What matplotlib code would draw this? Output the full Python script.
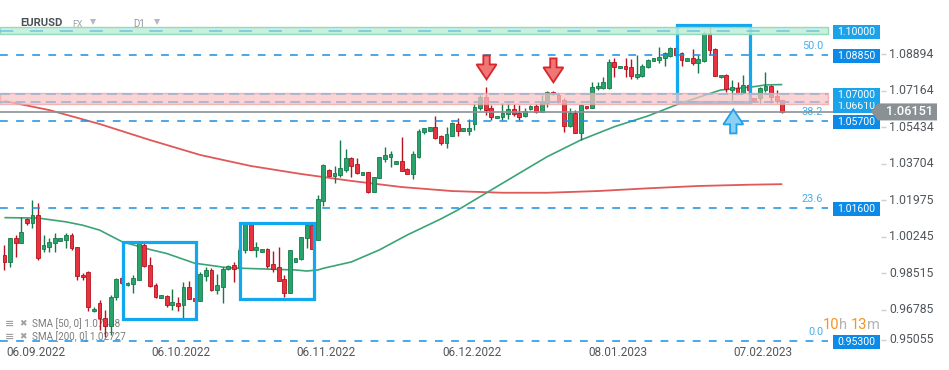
import matplotlib
matplotlib.use("Agg")
import matplotlib.pyplot as plt
from matplotlib.patches import Rectangle, Polygon
import numpy as np

plt.rcParams['font.family'] = ['Roboto', 'DejaVu Sans']
plt.rcParams['lines.scale_dashes'] = False

# ---------------- data ----------------
bar_index = list(range(-6, 134))   # 0 = 06.09.2022 (daily bars)
opens = [0.9937, 0.9905, 1.0016, 0.9995, 1.0106, 1.0087, 1.0127, 0.9964, 0.9973, 0.9995,
         1.0005, 1.0008, 1.0032, 0.9973, 0.9842, 0.9858, 0.9671, 0.9709, 0.9638, 0.9600,
         0.9737, 0.9826, 0.9795, 0.9798, 0.9818, 0.9984, 0.9889, 0.9795, 0.9737, 0.9743,
         0.9700, 0.9711, 0.9700, 0.9784, 0.9727, 0.9720, 0.9838, 0.9866, 0.9771, 0.9787,
         0.9870, 0.9889, 0.9875, 0.9961, 1.0087, 0.9961, 0.9953, 0.9964, 0.9894, 0.9879,
         0.9822, 0.9755, 0.9905, 0.9917, 1.0016, 1.0079, 1.0008, 1.0194, 1.0340, 1.0313,
         1.0316, 1.0340, 1.0395, 1.0368, 1.0318, 1.0329, 1.0237, 1.0303, 1.0392, 1.0403,
         1.0368, 1.0382, 1.0345, 1.0321, 1.0403, 1.0518, 1.0526, 1.0542, 1.0501, 1.0466,
         1.0501, 1.0558, 1.0526, 1.0526, 1.0558, 1.0632, 1.0687, 1.0632, 1.0585, 1.0590,
         1.0605, 1.0629, 1.0612, 1.0596, 1.0629, 1.0645, 1.0613, 1.0656, 1.0710, 1.0695,
         1.0672, 1.0548, 1.0612, 1.0514, 1.0643, 1.0635, 1.0727, 1.0730, 1.0727, 1.0852,
         1.0822, 1.0834, 1.0827, 1.0782, 1.0785, 1.0827, 1.0858, 1.0861, 1.0869, 1.0882,
         1.0917, 1.0893, 1.0858, 1.0869, 1.0846, 1.0858, 1.0988, 1.0912, 1.0779, 1.0790,
         1.0719, 1.0730, 1.0706, 1.0743, 1.0680, 1.0681, 1.0719, 1.0738, 1.0690, 1.0672]
highs = [0.9984, 1.0017, 1.0032, 1.0118, 1.0112, 1.0198, 1.0182, 1.0032, 1.0016, 1.0040,
         1.0016, 1.0040, 1.0040, 0.9976, 0.9850, 0.9860, 0.9692, 0.9724, 0.9676, 0.9747,
         0.9828, 0.9837, 0.9809, 0.9842, 1.0000, 0.9994, 0.9929, 0.9804, 0.9747, 0.9747,
         0.9776, 0.9739, 0.9810, 0.9815, 0.9731, 0.9858, 0.9878, 0.9874, 0.9847, 0.9881,
         0.9889, 0.9905, 0.9976, 1.0095, 1.0092, 1.0000, 0.9965, 0.9969, 0.9956, 0.9976,
         0.9842, 0.9961, 0.9921, 1.0021, 1.0092, 1.0089, 1.0221, 1.0368, 1.0345, 1.0359,
         1.0482, 1.0439, 1.0400, 1.0395, 1.0330, 1.0332, 1.0308, 1.0400, 1.0450, 1.0431,
         1.0382, 1.0498, 1.0349, 1.0431, 1.0534, 1.0539, 1.0542, 1.0596, 1.0506, 1.0545,
         1.0567, 1.0585, 1.0539, 1.0580, 1.0653, 1.0695, 1.0735, 1.0648, 1.0596, 1.0656,
         1.0656, 1.0653, 1.0648, 1.0632, 1.0648, 1.0653, 1.0695, 1.0716, 1.0714, 1.0706,
         1.0680, 1.0632, 1.0624, 1.0648, 1.0645, 1.0758, 1.0758, 1.0779, 1.0865, 1.0869,
         1.0833, 1.0869, 1.0865, 1.0885, 1.0842, 1.0866, 1.0871, 1.0924, 1.0901, 1.0924,
         1.0924, 1.0898, 1.0871, 1.0912, 1.0885, 1.0999, 1.1016, 1.0917, 1.0789, 1.0793,
         1.0766, 1.0758, 1.0790, 1.0747, 1.0681, 1.0735, 1.0806, 1.0743, 1.0719, 1.0672]
lows = [0.9866, 0.9882, 0.9929, 0.9994, 1.0079, 1.0063, 0.9913, 0.9953, 0.9953, 0.9953,
        1.0003, 0.9969, 0.9961, 0.9818, 0.9818, 0.9673, 0.9669, 0.9581, 0.9548, 0.9558,
        0.9724, 0.9795, 0.9790, 0.9755, 0.9818, 0.9881, 0.9787, 0.9733, 0.9735, 0.9692,
        0.9676, 0.9673, 0.9637, 0.9728, 0.9722, 0.9720, 0.9815, 0.9768, 0.9752, 0.9711,
        0.9866, 0.9810, 0.9866, 0.9945, 0.9961, 0.9929, 0.9952, 0.9874, 0.9858, 0.9815,
        0.9737, 0.9755, 0.9904, 0.9913, 0.9969, 0.9964, 1.0008, 1.0169, 1.0311, 1.0277,
        1.0308, 1.0332, 1.0308, 1.0321, 1.0316, 1.0229, 1.0237, 1.0303, 1.0379, 1.0356,
        1.0366, 1.0336, 1.0321, 1.0296, 1.0395, 1.0510, 1.0525, 1.0485, 1.0458, 1.0446,
        1.0501, 1.0501, 1.0525, 1.0506, 1.0529, 1.0624, 1.0601, 1.0577, 1.0584, 1.0577,
        1.0580, 1.0596, 1.0577, 1.0590, 1.0624, 1.0612, 1.0613, 1.0640, 1.0695, 1.0656,
        1.0521, 1.0542, 1.0514, 1.0482, 1.0631, 1.0635, 1.0719, 1.0722, 1.0722, 1.0782,
        1.0821, 1.0782, 1.0770, 1.0770, 1.0779, 1.0823, 1.0857, 1.0846, 1.0833, 1.0877,
        1.0877, 1.0833, 1.0857, 1.0837, 1.0801, 1.0853, 1.0885, 1.0785, 1.0778, 1.0711,
        1.0672, 1.0703, 1.0703, 1.0705, 1.0668, 1.0656, 1.0711, 1.0656, 1.0656, 1.0611]
closes = [0.9905, 1.0016, 0.9995, 1.0047, 1.0087, 1.0127, 0.9921, 0.9984, 1.0000, 1.0016,
          1.0014, 1.0032, 0.9969, 0.9837, 0.9831, 0.9692, 0.9681, 0.9638, 0.9600, 0.9738,
          0.9822, 0.9803, 0.9804, 0.9826, 0.9992, 0.9885, 0.9790, 0.9737, 0.9745, 0.9700,
          0.9716, 0.9695, 0.9784, 0.9728, 0.9725, 0.9846, 0.9866, 0.9771, 0.9795, 0.9870,
          0.9886, 0.9870, 0.9961, 1.0087, 0.9961, 0.9976, 0.9965, 0.9885, 0.9870, 0.9815,
          0.9755, 0.9961, 0.9921, 1.0021, 1.0079, 0.9964, 1.0201, 1.0363, 1.0313, 1.0324,
          1.0348, 1.0395, 1.0360, 1.0324, 1.0330, 1.0237, 1.0308, 1.0400, 1.0411, 1.0416,
          1.0382, 1.0336, 1.0321, 1.0416, 1.0525, 1.0537, 1.0542, 1.0490, 1.0466, 1.0510,
          1.0561, 1.0526, 1.0537, 1.0537, 1.0637, 1.0684, 1.0624, 1.0590, 1.0596, 1.0612,
          1.0630, 1.0605, 1.0592, 1.0621, 1.0645, 1.0613, 1.0667, 1.0708, 1.0700, 1.0664,
          1.0548, 1.0612, 1.0517, 1.0648, 1.0632, 1.0735, 1.0739, 1.0758, 1.0853, 1.0829,
          1.0833, 1.0817, 1.0785, 1.0795, 1.0833, 1.0861, 1.0869, 1.0877, 1.0893, 1.0917,
          1.0885, 1.0861, 1.0869, 1.0846, 1.0865, 1.0991, 1.0909, 1.0785, 1.0789, 1.0722,
          1.0732, 1.0706, 1.0743, 1.0719, 1.0668, 1.0727, 1.0738, 1.0684, 1.0668, 1.06151]

sma50_idx = [-6, 0, 5, 8, 11, 15, 20, 23, 28, 34, 40, 46, 48, 50, 51, 56, 61, 66, 72, 75,
             83, 91, 97, 103, 109, 114, 118, 122, 124, 128, 130, 133]
sma50 = [1.0114, 1.0112, 1.0094, 1.0078, 1.0055, 1.0000, 0.9963, 0.9944, 0.9898, 0.9876,
         0.9871, 0.9866, 0.9861, 0.9866, 0.9874, 0.9904, 0.9961, 1.0032, 1.0108, 1.0150,
         1.0277, 1.0403, 1.0482, 1.0545, 1.0596, 1.0648, 1.0684, 1.0719, 1.0724, 1.0735,
         1.0743, 1.07448]
sma200_idx = [-6, 2, 11, 20, 29, 38, 47, 56, 65, 74, 83, 91, 100, 109, 118, 127, 133]
sma200 = [1.0667, 1.0624, 1.0558, 1.0482, 1.0411, 1.0359, 1.0321, 1.0288, 1.0259, 1.0240,
          1.0232, 1.0232, 1.0240, 1.0253, 1.0264, 1.0270, 1.02727]

date_labels = ['06.09.2022', '06.10.2022', '06.11.2022', '06.12.2022', '08.01.2023', '07.02.2023']
date_label_idx = [0, 26, 52, 78, 104, 130]

price_ticks = [1.08894, 1.07164, 1.05434, 1.03704, 1.01975, 1.00245, 0.98515, 0.96785, 0.95055]

fib_levels = [1.0885, 1.0570, 1.0160, 0.9530]
fib_names = ['50.0', '38.2', '23.6', '0.0']

green_zone_level = 1.1000
green_zone = (1.0983, 1.1017)
pink_zone_levels = [1.0700, 1.0661]
pink_zone = (1.0654, 1.0705)

last_price = 1.06151
sma50_last = 1.07448
sma200_last = 1.02727

# highlight boxes: (bar_from, bar_to, price_low, price_high)
highlight_boxes = [(15.2, 28.2, 0.9634, 0.9999),
                   (36.1, 49.3, 0.9728, 1.0090),
                   (114.1, 127.2, 1.0663, 1.1027)]
down_arrows = [(80.15, 1.0769), (92.1, 1.0755)]   # tip positions
up_arrows = [(124.25, 1.0627)]

# ---------------- layout ----------------
W, H = 949, 370
BAR_PX = 5.596
X0_PX = 38.0
PRICE_PER_PX = 0.000474
Y_TOP = 1.11456
x_min = -X0_PX / BAR_PX
x_max = x_min + W / BAR_PX
y_max = Y_TOP
y_min = Y_TOP - H * PRICE_PER_PX


def xp(p):
    return x_min + p / BAR_PX


def yp(p):
    return y_max - p * PRICE_PER_PX


def dx(p):
    return p / BAR_PX


def dy(p):
    return p * PRICE_PER_PX


fig = plt.figure(figsize=(W / 100, H / 100), dpi=100)
ax = fig.add_axes([0, 0, 1, 1])
ax.set_xlim(x_min, x_max)
ax.set_ylim(y_min, y_max)
ax.axis('off')

LINE_END = xp(828)

# legend texts (under candles)
leg_y = [yp(324), yp(337)]
leg_txt = [f"SMA [50, 0] {sma50_last:.5f}", f"SMA [200, 0] {sma200_last:.5f}"]
for yy, t in zip(leg_y, leg_txt):
    ax.text(xp(5), yy, '≡', fontsize=8, color='#a0a0a0', va='center', ha='left', zorder=1,
            family=['DejaVu Sans'], fontweight='bold')
    ax.text(xp(19), yy, '✖', fontsize=6.5, color='#a0a0a0', va='center', ha='left', zorder=1,
            family=['DejaVu Sans'])
    ax.text(xp(32), yy, t, fontsize=7.1, color='#7b7b7b', va='center', ha='left', zorder=1)

# SMA lines
ax.plot(sma200_idx, sma200, color='#e05858', lw=1.3, zorder=2.5, solid_capstyle='butt')
ax.plot(sma50_idx, sma50, color='#3aa476', lw=1.2, zorder=2.5, solid_capstyle='butt')

# candles
o = np.array(opens)
c = np.array(closes)
h = np.array(highs)
l = np.array(lows)
idx = np.array(bar_index)
up = c >= o
fill = np.where(up, '#27a36b', '#e8333f')
edge = np.where(up, '#157a4b', '#b5131f')
ax.vlines(idx, l, h, colors=edge, lw=1.0, zorder=3)
body_h = np.abs(c - o)
min_h = dy(2.4)
mid = (o + c) / 2
bh = np.maximum(body_h, min_h)
bottom = np.where(body_h < min_h, mid - min_h / 2, np.minimum(o, c))
ax.bar(idx, bh, bottom=bottom, width=0.68, color=fill, edgecolor=edge, linewidth=0.6, zorder=3.1)

# highlight boxes
for x0, x1, p0, p1 in highlight_boxes:
    ax.add_patch(Rectangle((x0, p0), x1 - x0, p1 - p0, fill=False, ec='#12a8ef', lw=2.3,
                           zorder=4, joinstyle='miter'))

# zones
ax.add_patch(Rectangle((x_min, green_zone[0]), LINE_END - x_min, green_zone[1] - green_zone[0],
                       facecolor='#c0eed9', edgecolor='#84d8b2', lw=1, alpha=0.85, zorder=5))
ax.hlines(green_zone_level, x_min, LINE_END, colors='#6fc4e4', lw=1.1,
          linestyles=[(0, (9.5, 12))], zorder=6)
ax.add_patch(Rectangle((x_min, pink_zone[0]), LINE_END - x_min, pink_zone[1] - pink_zone[0],
                       facecolor='#f9c4c4', edgecolor='#f19d9d', lw=1, alpha=0.72, zorder=5))
ax.hlines(pink_zone_levels, x_min, LINE_END, colors='#a7b6ce', lw=1.3,
          linestyles=[(0, (7.2, 3.8))], zorder=6)

# fibonacci dashed lines
ax.hlines(fib_levels, x_min, LINE_END, colors='#1b8fe0', lw=1.1,
          linestyles=[(0, (5.6, 6.0))], zorder=6)
for lvl, name in zip(fib_levels, fib_names):
    ax.text(xp(823), lvl + dy(9), name, fontsize=7.8, color='#45b0ea', ha='right', va='center',
            zorder=6)

# current price line
ax.hlines(last_price, x_min, xp(878), colors='#8b9196', lw=1.2, zorder=6)

# arrows
def arrow(tip_x, tip_y, direction, fc, ec, head=15, total=24, hw=10, sw=3.2):
    s = -1 if direction == 'down' else 1
    pts_px = [(0, 0), (-hw, head), (-sw, head), (-sw, total), (sw, total), (sw, head), (hw, head)]
    pts = [(tip_x + dx(a), tip_y - s * dy(b)) for a, b in pts_px]
    ax.add_patch(Polygon(pts, closed=True, fc=fc, ec=ec, lw=1.3, zorder=7, joinstyle='miter'))


for ax_, ay_ in down_arrows:
    arrow(ax_, ay_, 'down', '#ee7676', '#d8262b')
for ax_, ay_ in up_arrows:
    arrow(ax_, ay_, 'up', '#8dd0f5', '#22a0e8')

# right-hand price boxes (drawn in order; later ones cover earlier ones)
light = '#1aa3ea'
dark = '#0b8ae8'
# (level, colour, downward shift in px); the 1.0661 tag sits mostly hidden under 1.07000
box_specs = [(green_zone_level, light, 1), (fib_levels[0], dark, 1),
             (pink_zone_levels[1], light, 3.5), (pink_zone_levels[0], light, 1)] + \
            [(v, dark, 1) for v in fib_levels[1:]]
bx0, bx1 = xp(833), xp(880)
bh_ = dy(14)
for k, (lvl, col, sh) in enumerate(box_specs):
    cy = lvl - dy(sh)
    z = 8 + 0.02 * k
    ax.add_patch(Rectangle((bx0, cy - bh_ / 2), bx1 - bx0, bh_, facecolor=col,
                           edgecolor='none', zorder=z))
    ax.text((bx0 + bx1) / 2, cy, f"{lvl:.5f}", color='white', fontsize=7.6,
            ha='center', va='center', zorder=z + 0.01)

# tick labels
clamp = yp(340)
for v in price_ticks:
    yy = max(v, clamp)
    ax.hlines(yy, xp(881), xp(886), colors='#cfcfcf', lw=1, zorder=8)
    ax.text(xp(889), yy, f"{v:.5f}", fontsize=8.8, color='#50565c', ha='left', va='center',
            zorder=8)

# current price tag
half = dy(8.5)
tag = [(xp(871), last_price), (xp(878), last_price + half), (xp(937), last_price + half),
       (xp(937), last_price - half), (xp(878), last_price - half)]
ax.add_patch(Polygon(tag, closed=True, fc='#8a9195', ec='none', zorder=9))
ax.text(xp(910), last_price, f"{last_price:.5f}", color='white', fontsize=9.3, ha='center',
        va='center', zorder=9.1, fontweight='medium')

# date labels
for i, lab in zip(date_label_idx, date_labels):
    ax.text(i - 0.45, yp(353), lab, fontsize=8.5, color='#50565c', ha='center', va='center')

# countdown
for txt, col, px_ in [('10', '#f7941d', 823), ('h', '#b3b3b3', 839.5),
                      ('13', '#f7941d', 851), ('m', '#b3b3b3', 867.5)]:
    ax.text(xp(px_), yp(325), txt, fontsize=10.5, color=col, ha='left', va='center', zorder=8)

# header
ax.text(xp(20.5), yp(23.3), 'EURUSD', fontsize=8.1, fontweight='bold', color='#4b5157',
        ha='left', va='center')
ax.text(xp(72.5), yp(24.2), 'FX', fontsize=6.4, color='#9da3a8', ha='left', va='center')
ax.text(xp(133.3), yp(24.2), 'D1', fontsize=6.9, color='#8f959a', ha='left', va='center')
ax.plot([xp(93.3), xp(157)], [yp(22.3), yp(22.3)], ls='none', marker='v', markersize=5,
        color='#b4b8bc', markeredgewidth=0)

fig.savefig('out.png', dpi=100)
